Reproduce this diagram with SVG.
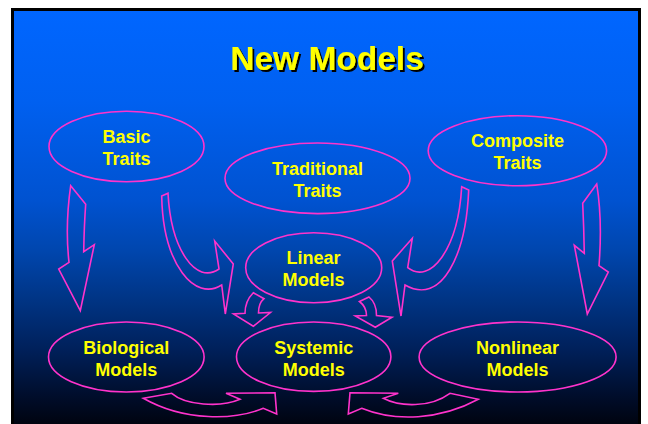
<svg xmlns="http://www.w3.org/2000/svg" width="648" height="424" viewBox="0 0 648 424">
<defs>
<linearGradient id="bg" gradientUnits="userSpaceOnUse" x1="0" y1="11" x2="0" y2="424">
<stop offset="0" stop-color="#0066ff"/>
<stop offset="0.22" stop-color="#0060f0"/>
<stop offset="0.46" stop-color="#0052d0"/>
<stop offset="0.58" stop-color="#0046ae"/>
<stop offset="0.70" stop-color="#003484"/>
<stop offset="0.82" stop-color="#00205a"/>
<stop offset="0.94" stop-color="#000c28"/>
<stop offset="1" stop-color="#000410"/>
</linearGradient>
<filter id="shadow" x="-10%" y="-20%" width="120%" height="150%">
<feDropShadow dx="2" dy="2" stdDeviation="0.3" flood-color="#000000" flood-opacity="1"/>
</filter>
<style>
.node ellipse{fill:none;stroke:#ff33cc;stroke-width:1.6}
.lbl{font-family:"Liberation Sans",Arial,sans-serif;font-weight:bold;font-size:18px;fill:#ffff00;text-anchor:middle}
.conn path{fill:none;stroke:#ff33cc;stroke-width:1.6;stroke-linejoin:miter}
.title{font-family:"Liberation Sans",Arial,sans-serif;font-weight:bold;font-size:33.5px;text-anchor:middle;fill:#ffff00}
</style>
</defs>
<rect x="0" y="0" width="648" height="424" fill="#ffffff"/>
<rect x="12.5" y="9.5" width="627" height="420" fill="url(#bg)" stroke="#000000" stroke-width="3"/>
<g id="title">
<text class="title" x="327" y="70" filter="url(#shadow)">New Models</text>
</g>
<g id="basic-traits" class="node">
<ellipse cx="126.5" cy="146.5" rx="77.5" ry="35.3"/>
<text class="lbl" x="126.5" y="143">Basic</text>
<text class="lbl" x="126.5" y="165">Traits</text>
</g>
<g id="traditional-traits" class="node">
<ellipse cx="317.5" cy="178.3" rx="92.5" ry="35.3"/>
<text class="lbl" x="317.5" y="175">Traditional</text>
<text class="lbl" x="317.5" y="197">Traits</text>
</g>
<g id="composite-traits" class="node">
<ellipse cx="517.4" cy="150.7" rx="89.2" ry="35"/>
<text class="lbl" x="517.4" y="147">Composite</text>
<text class="lbl" x="517.4" y="169">Traits</text>
</g>
<g id="linear-models" class="node">
<ellipse cx="313.7" cy="267.7" rx="68" ry="35"/>
<text class="lbl" x="313.5" y="264">Linear</text>
<text class="lbl" x="313.5" y="286">Models</text>
</g>
<g id="biological-models" class="node">
<ellipse cx="126.3" cy="357" rx="77.8" ry="35"/>
<text class="lbl" x="126.3" y="353.5">Biological</text>
<text class="lbl" x="126.3" y="375.5">Models</text>
</g>
<g id="systemic-models" class="node">
<ellipse cx="313.7" cy="356.7" rx="77.2" ry="34.7"/>
<text class="lbl" x="313.7" y="353.5">Systemic</text>
<text class="lbl" x="313.7" y="375.5">Models</text>
</g>
<g id="nonlinear-models" class="node">
<ellipse cx="517.6" cy="357" rx="98.5" ry="35"/>
<text class="lbl" x="517.6" y="353.5">Nonlinear</text>
<text class="lbl" x="517.6" y="375.5">Models</text>
</g>
<g id="connectors" class="conn">
<path d="M 70.7 185.7 L 85.7 204.3 C 84.5 220 84 236 83.7 251.7 L 94.3 244.7 L 80.3 310.7 L 58.7 269 L 69 262.3 C 66.5 240 66.5 215 70.7 185.7 Z"/>
<path d="M 161.7 196 L 168 193.3 C 171 250 196 285 219 269 L 214.7 241 L 233.3 264 L 225.3 314 L 221.7 285 C 195 302 163 265 161.7 196 Z"/>
<path d="M 461.7 186.7 L 468.7 190 C 466 255 442 306 405 285 L 401 316 L 392.3 261 L 412.3 238.3 L 407.7 267.7 C 430 285 458 250 461.7 186.7 Z"/>
<path d="M 596.7 184 C 601 210 601 240 599 265.7 L 608.3 272 L 587.3 314 L 574.3 245.3 L 584.3 253.3 C 584 235 583.5 220 582.7 203.3 Z"/>
<path d="M 253.3 292.7 L 264 298.7 C 260 302 258.5 307 258.5 313 L 270.5 312.5 L 253.3 326.3 L 233.5 314 L 245 313.3 C 245 305 248 298 253.3 292.7 Z"/>
<path d="M 359.5 301.5 L 369 297 C 374 301 376.5 308 376.5 315.5 L 392 317.3 L 375.3 327.3 L 355.3 316 L 366.5 315.5 C 366.5 310 364 305 359.5 301.5 Z"/>
<path d="M 143.3 398.3 L 171.7 393.3 C 185 405 220 408 240 399.3 L 226 393.3 L 275 392.7 L 276.7 414 L 263.3 408.3 C 235 420 185 422 143.3 398.3 Z"/>
<path d="M 350 392.7 L 398.3 393.3 L 383.3 398.3 C 400 407 430 408 450 393.3 L 478.3 399.3 C 440 420 395 422 361.7 408.3 L 348.3 414 Z"/>
</g>
</svg>
